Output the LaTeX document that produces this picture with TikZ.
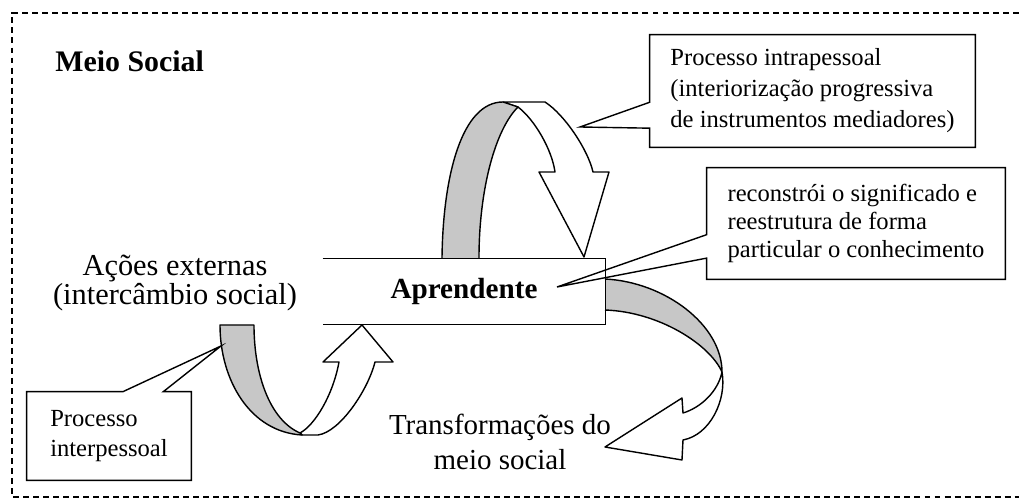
\documentclass[tikz,border=0pt]{standalone}
\usepackage{fontspec}
\setmainfont{Liberation Serif}
\usetikzlibrary{calc}
\definecolor{faixa}{gray}{0.78}
\tikzset{
	band/.style={draw,line width=0.8pt,line join=round},
	callbox/.style={inner sep=0pt,align=left},
	callout/.style={draw,line width=0.8pt},
	bigtext/.style={inner sep=0pt,align=center},
}
\begin{document}
\begin{tikzpicture}[x=0.02cm,y=-0.02cm]
	\useasboundingbox (0,0) rectangle (1019,502);
	\draw[line width=1.1pt,dash pattern=on 3.4pt off 2.3pt] (1019,13)--(12,13)--(12,497)--(1019,497);
	% interiorizacao
	\draw[band,fill=white] (503,102)--(545,102) .. controls (565,115) and (588,150) .. (593,172) -- (609,172) -- (584,257) -- (539,172) -- (555,172) .. controls (552,150) and (535,120) .. (518,107) -- cycle;
	\draw[band,fill=faixa] (442,258) .. controls (443,175) and (462,102) .. (503,102) -- (518,107) .. controls (495,130) and (479,190) .. (479,258);
	% intercambio
	\draw[band,fill=white] (302,435)--(318,435) .. controls (340,432) and (368,390) .. (375,362) -- (393,362) -- (362,325) -- (323,362) -- (339,362) .. controls (333,395) and (315,425) .. (300,433) -- cycle;
	\draw[band,fill=faixa] (220,325) -- (254,325) .. controls (254,375) and (270,420) .. (300,433) -- (302,435) .. controls (250,432) and (220,380) .. (220,325) -- cycle;
	% transformacoes
	\draw[band,fill=white] (722,372) .. controls (727,400) and (710,435) .. (683,440) -- (682,460) -- (605,447) -- (682,398) -- (683,413) .. controls (700,408) and (718,392) .. (722,372) -- cycle;
	\draw[band,fill=faixa] (605,279) .. controls (665,282) and (722,325) .. (722,372) .. controls (710,345) and (660,312) .. (605,310);
	
	\node[font=\bfseries\fontsize{16.6}{20}\selectfont,minimum width=5.64cm,minimum height=1.3cm] (apr) at (464,291.5) {Aprendente};
	\draw[line width=0.8pt] (apr.north west) -- (apr.north east) -- (apr.south east) -- (apr.south west);
	
	\node[font=\bfseries\fontsize{17}{20}\selectfont,anchor=base west,inner sep=0pt] (meio) at (55,72) {Meio Social};
	\node[bigtext,font=\fontsize{17.3}{16.5}\selectfont] (acoes) at (175,283) {Ações externas\\(intercâmbio social)};
	\node[bigtext,font=\fontsize{16.5}{19.8}\selectfont] (transf) at (500,442) {Transformações do\\meio social};
	
	\node[callbox,font=\fontsize{14}{17.6}\selectfont,minimum width=6.5cm,minimum height=2.24cm] (intra) at (812.5,91) {Processo intrapessoal\\(interiorização progressiva\\de instrumentos mediadores)};
	\coordinate (intratip) at (580,127);
	\draw[callout] (intra.north west) -- ($(intra.north west)!0.6!(intra.south west)$) -- (intratip) -- ($(intra.north west)!0.83!(intra.south west)$) -- (intra.south west) -- (intra.south east) -- (intra.north east) -- cycle;
	
	\node[callbox,font=\fontsize{14}{15.9}\selectfont,minimum width=5.96cm,minimum height=2.22cm] (recon) at (856,223.5) {reconstrói o significado e\\reestrutura de forma\\particular o conhecimento};
	\coordinate (recontip) at (557,287);
	\draw[callout] (recon.north west) -- ($(recon.north west)!0.6!(recon.south west)$) -- (recontip) -- ($(recon.north west)!0.81!(recon.south west)$) -- (recon.south west) -- (recon.south east) -- (recon.north east) -- cycle;
	
	\node[callbox,font=\fontsize{14}{17.5}\selectfont,minimum width=3.28cm,minimum height=1.76cm] (inter) at (109,436) {Processo\\interpessoal};
	\coordinate (intertip) at (221,346);
	\draw[callout] (inter.south west) -- (inter.north west) -- ($(inter.north west)!0.585!(inter.north east)$) -- (intertip) -- ($(inter.north west)!0.83!(inter.north east)$) -- (inter.north east) -- (inter.south east) -- cycle;
\end{tikzpicture}
\end{document}
